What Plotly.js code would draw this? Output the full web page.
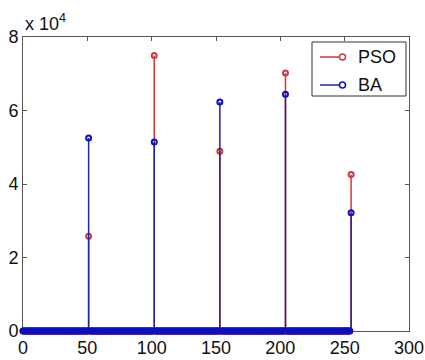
<!DOCTYPE html>
<html>
<head>
<meta charset="utf-8">
<script src="https://cdn.plot.ly/plotly-3.0.1.min.js"></script>
<style>
  html, body { margin: 0; padding: 0; background: #ffffff; }
  #chart { width: 425px; height: 360px; }
</style>
</head>
<body>
<div id="chart"></div>
<script>
// ---- data ----
const binX = Array.from({ length: 256 }, (_, i) => i);   // bins 0..255
const peakX = [51, 102, 153, 204, 255];
const psoPeak = [25800, 75000, 48900, 70200, 42600];
const baPeak = [52500, 51400, 62300, 64400, 32200];
const xTickVals = [0, 50, 100, 150, 200, 250, 300];
const yTickVals = [0, 20000, 40000, 60000, 80000];
const yTickText = ['0', '2', '4', '6', '8'];
const seriesNames = ['PSO', 'BA'];

// ---- build full series (zero in every bin except the peaks) ----
function fullSeries(peaks) {
  return binX.map(x => {
    const k = peakX.indexOf(x);
    return k < 0 ? 0 : peaks[k];
  });
}
const psoY = fullSeries(psoPeak);
const baY = fullSeries(baPeak);

function stemLines(xs, ys) {
  const sx = [], sy = [];
  xs.forEach((x, i) => {
    if (ys[i] !== 0) { sx.push(x, x, null); sy.push(0, ys[i], null); }
  });
  return { x: sx, y: sy };
}

const RED_LINE = '#d83434', RED_MK = '#cc3a48';
const BLUE_LINE = '#20249a', BLUE_MK = '#0c10c4';

const psoStem = stemLines(binX, psoY);
const baStem = stemLines(binX, baY);

const traces = [
  { x: psoStem.x, y: psoStem.y, type: 'scatter', mode: 'lines',
    line: { color: RED_LINE, width: 1.5 }, hoverinfo: 'skip', showlegend: false },
  { x: binX, y: psoY, type: 'scatter', mode: 'markers', cliponaxis: false,
    marker: { symbol: 'circle-open', size: 5, color: RED_MK, line: { width: 2, color: RED_MK } },
    name: seriesNames[0], showlegend: false },
  { x: baStem.x, y: baStem.y, type: 'scatter', mode: 'lines',
    line: { color: BLUE_LINE, width: 1.5 }, hoverinfo: 'skip', showlegend: false },
  { x: binX, y: baY, type: 'scatter', mode: 'markers', cliponaxis: false,
    marker: { symbol: 'circle-open', size: 5, color: BLUE_MK, line: { width: 2, color: BLUE_MK } },
    name: seriesNames[1], showlegend: false }
];

// ---- custom MATLAB-style legend (paper coords) ----
const L = 23, R = 409, T = 37, B = 331;
const px = v => (v - L) / (R - L);
const py = v => (B - v) / (B - T);
const legendRows = [
  { name: seriesNames[0], yPix: 57, line: RED_LINE, mk: RED_MK },
  { name: seriesNames[1], yPix: 85, line: BLUE_LINE, mk: BLUE_MK }
];
const shapes = [
  { type: 'rect', xref: 'paper', yref: 'paper', x0: px(312), x1: px(406), y0: py(96), y1: py(42),
    line: { color: '#333333', width: 1 }, fillcolor: '#ffffff', layer: 'above' }
];
const annotations = [
  { xref: 'paper', yref: 'paper', x: 0, y: 1, xanchor: 'left', yanchor: 'bottom', yshift: 1,
    text: 'x 10<sup>4</sup>', showarrow: false,
    font: { family: 'Liberation Sans, Arial, sans-serif', size: 18, color: '#111111' } }
];
legendRows.forEach(r => {
  shapes.push({ type: 'line', xref: 'paper', yref: 'paper', x0: px(320), x1: px(342.5),
    y0: py(r.yPix), y1: py(r.yPix), line: { color: r.line, width: 1.5 }, layer: 'above' });
  shapes.push({ type: 'circle', xref: 'paper', yref: 'paper', xsizemode: 'pixel', ysizemode: 'pixel',
    xanchor: px(342.5), yanchor: py(r.yPix), x0: -3, x1: 3, y0: -3, y1: 3,
    line: { color: r.mk, width: 1.5 }, fillcolor: '#ffffff', layer: 'above' });
  annotations.push({ xref: 'paper', yref: 'paper', x: px(356), y: py(r.yPix), xanchor: 'left',
    yanchor: 'middle', text: r.name, showarrow: false,
    font: { family: 'Liberation Sans, Arial, sans-serif', size: 18, color: '#111111' } });
});

const axisCommon = {
  showline: true, linecolor: '#555555', linewidth: 1, mirror: 'ticks',
  ticks: 'inside', ticklen: 4, tickcolor: '#555555', tickwidth: 1,
  showgrid: false, zeroline: false, layer: 'below traces',
  tickfont: { family: 'Liberation Sans, Arial, sans-serif', size: 18, color: '#111111' }
};

const layout = {
  width: 425, height: 360,
  margin: { l: L, r: 425 - R, t: T, b: 360 - B, pad: 0 },
  paper_bgcolor: '#ffffff', plot_bgcolor: '#ffffff',
  showlegend: false,
  xaxis: Object.assign({}, axisCommon, { range: [0, 300], tickmode: 'array', tickvals: xTickVals }),
  yaxis: Object.assign({}, axisCommon, { range: [0, 80000], tickmode: 'array',
    tickvals: yTickVals, ticktext: yTickText }),
  shapes: shapes,
  annotations: annotations
};

Plotly.newPlot('chart', traces, layout, { staticPlot: true, displayModeBar: false });
</script>
</body>
</html>
